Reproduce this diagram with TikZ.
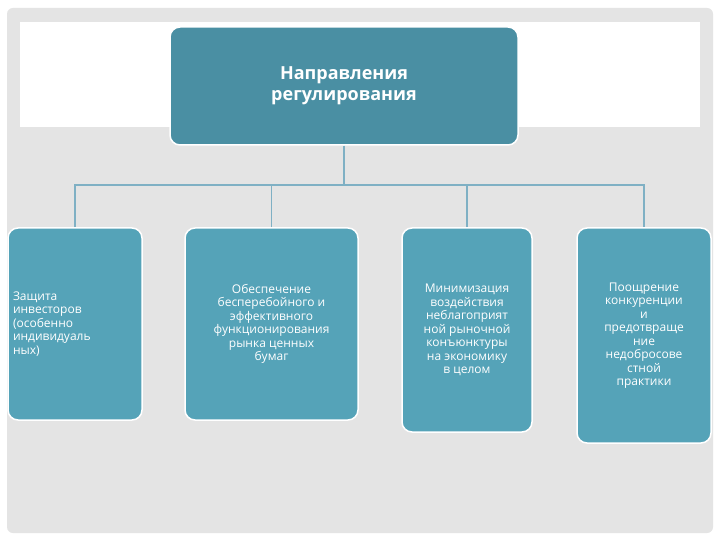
\documentclass[tikz,border=0pt]{standalone}
\usepackage{fontspec}
\setmainfont{Open Sans}
\begin{document}
\begin{tikzpicture}[x=1pt,y=-1pt,
 top/.style={draw=white,line width=1.5pt,fill=topc,rounded corners=10pt,text=white,font=\bfseries\fontsize{18}{21}\selectfont,align=center},
 kid/.style={draw=white,line width=1.5pt,fill=kidc,rounded corners=10pt,text=white,font=\fontsize{12}{13.5}\selectfont},
 link/.style={draw=linkc,line width=1.5pt}]
\definecolor{topc}{HTML}{4A8FA3}
\definecolor{kidc}{HTML}{55A3B8}
\definecolor{linkc}{HTML}{7FB0C4}
\definecolor{bgc}{HTML}{E4E4E4}
\useasboundingbox (0,0) rectangle (720,540);
\fill[white] (0,0) rectangle (720,540);
\fill[bgc,rounded corners=6pt] (7,8) rectangle (713,533);
\fill[white] (20,22) rectangle (700,127);
\node[top,minimum width=348pt,minimum height=118pt] (t) at (344,86) {Направления\\регулирования};
\node[kid,minimum width=134pt,minimum height=192pt,align=left,text width=124pt] (a) at (75,324) {Защита\\инвесторов\\(особенно\\индивидуаль\\ных)};
\node[kid,minimum width=173pt,minimum height=192pt,align=center] (b) at (271.5,324) {Обеспечение\\бесперебойного и\\эффективного\\функционирования\\рынка ценных\\бумаг};
\node[kid,minimum width=130pt,minimum height=204pt,align=center] (c) at (467,330) {Минимизация\\воздействия\\неблагоприят\\ной рыночной\\конъюнктуры\\на экономику\\в целом};
\node[kid,minimum width=134pt,minimum height=215pt,align=center] (d) at (644,335.5) {Поощрение\\конкуренции\\и\\предотвраще\\ние\\недобросове\\стной\\практики};
\coordinate (h) at (344,185);
\draw[link] (t.south) -- (h);
\draw[link] (a.north) |- (h) -| (d.north);
\draw[link] (b.north) -- (b.north |- h);
\draw[link] (c.north) -- (c.north |- h);
\end{tikzpicture}
\end{document}
